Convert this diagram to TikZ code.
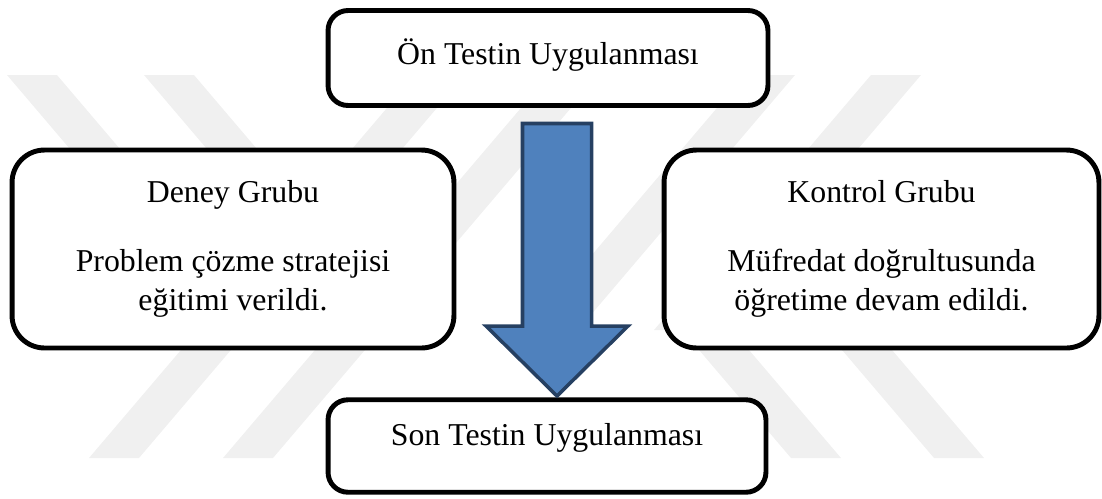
\documentclass[tikz,border=0pt]{standalone}
\usepackage{fontspec}
\setmainfont{Liberation Serif}
\usepackage{tikz}
\usetikzlibrary{positioning,calc}
\usepackage{xcolor}
\definecolor{okmavi}{RGB}{79,129,189}
\definecolor{okkenar}{RGB}{38,64,98}
\definecolor{filigrangri}{RGB}{240,240,240}

\begin{document}
\begin{tikzpicture}[x=0.02cm, y=-0.02cm,
    kutu/.style={draw, line width=2.8pt, fill=white, rounded corners=0.4cm, inner sep=0pt,
        font=\fontsize{18.1}{22.7}\selectfont},
    grupkutu/.style={kutu, rounded corners=0.65cm, align=center, minimum height=3.96cm},
    filigran/.style={fill=filigrangri, draw=none},
    okblok/.style={fill=okmavi, draw=okkenar, line width=2pt, line join=miter}]
    \useasboundingbox (0,0) rectangle (1102,498);
    \foreach \xa/\ya/\xb/\yb in {7/75/224/330, 144/75/361/330, 415/75/89/458, 549/75/223/458,
        745/75/528/330, 871/75/654/330, 682/330/791/458, 825/330/934/458}
        \fill[filigran] (\xa,\ya) -- (\xa+50,\ya) -- (\xb+50,\yb) -- (\xb,\yb) -- cycle;
    \node[kutu, minimum width=8.8cm, minimum height=1.9cm, text height=12pt, text depth=4.1pt] (ontest) at (548,58) {Ön Testin Uygulanması};
    \node[grupkutu, minimum width=8.84cm] (deney) at (233,249) {Deney Grubu\\[16.4pt] Problem çözme stratejisi\\ eğitimi verildi.};
    \node[grupkutu, minimum width=8.7cm] (kontrol) at (881.5,249) {Kontrol Grubu\\[16.4pt] Müfredat doğrultusunda\\ öğretime devam edildi.};
    \node[kutu, minimum width=8.76cm, minimum height=1.85cm, text height=6pt, text depth=7.1pt] (sontest) at (547,446) {Son Testin Uygulanması};
    \coordinate (okucu) at (557,396);
    \draw[okblok] (522.5,123.5) -- (591.5,123.5) -- (591.5,326) -- (628,326) -- (okucu) -- (486,326) -- (522.5,326) -- cycle;
\end{tikzpicture}
\end{document}
